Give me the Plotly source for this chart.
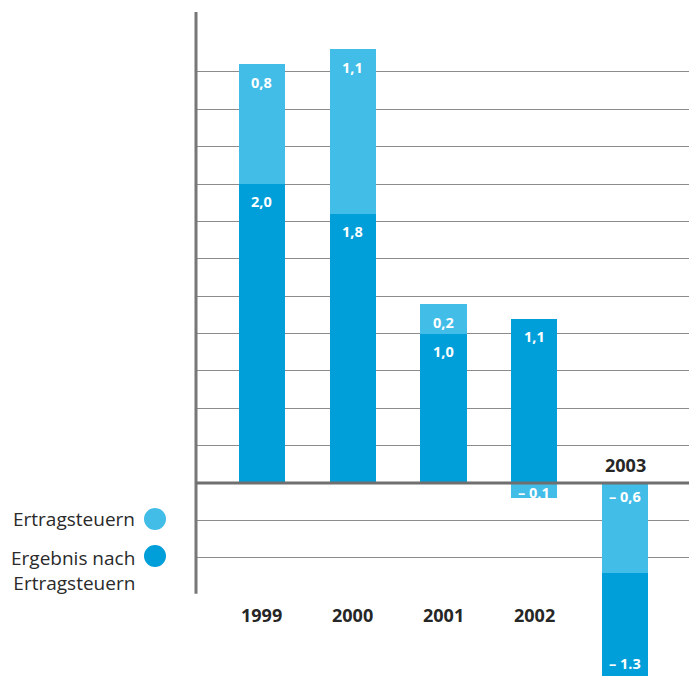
import plotly.graph_objects as go

# Jahre und Werte (Mrd. €)
years = ["1999", "2000", "2001", "2002", "2003"]
ergebnis = [2.0, 1.8, 1.0, 1.1, -1.3]          # Ergebnis nach Ertragsteuern
steuern = [0.8, 1.1, 0.2, -0.1, -0.6]          # Ertragsteuern
ergebnis_labels = ["2,0", "1,8", "1,0", "1,1", "\u2013 1.3"]
steuern_labels = ["0,8", "1,1", "0,2", "\u2013 0,1", "\u2013 0,6"]
grid_levels = [-0.5, -0.25, 0.25, 0.5, 0.75, 1.0, 1.25, 1.5, 1.75, 2.0, 2.25, 2.5, 2.75]

LIGHT = "#41bde8"
DARK = "#009fda"
Y_MIN, Y_MAX = -1.291, 3.231
X_MIN, X_MAX = -0.727, 4.705
BAR_W = 0.507

x = list(range(len(years)))

# bases so that the tax segment always sits on the outer side of the bar
erg_base, st_base = [], []
for e, t in zip(ergebnis, steuern):
    if e >= 0 and t >= 0:
        erg_base.append(0); st_base.append(e)
    elif e < 0 and t < 0:
        erg_base.append(t); st_base.append(0)
    else:
        erg_base.append(0); st_base.append(0)

fig = go.Figure()
fig.add_trace(go.Bar(x=x, y=ergebnis, base=erg_base, width=BAR_W,
                     marker=dict(color=DARK, line=dict(width=0)),
                     name="Ergebnis nach Ertragsteuern", showlegend=False,
                     hoverinfo="skip"))
fig.add_trace(go.Bar(x=x, y=steuern, base=st_base, width=BAR_W,
                     marker=dict(color=LIGHT, line=dict(width=0)),
                     name="Ertragsteuern", showlegend=False,
                     hoverinfo="skip"))

val_font = dict(family="Open Sans", size=14.5, color="white")
ann = []
for i in x:
    # tax segment label
    b, v = st_base[i], steuern[i]
    if v >= 0:
        ann.append(dict(x=i, y=b + v, yshift=-7, yanchor="top", text="<b>%s</b>" % steuern_labels[i]))
    elif abs(v) < 0.2:
        ann.append(dict(x=i, y=b + v / 2, yshift=-2, yanchor="middle", text="<b>%s</b>" % steuern_labels[i]))
    else:
        ann.append(dict(x=i, y=b, yshift=-2, yanchor="top", text="<b>%s</b>" % steuern_labels[i]))
    # result segment label
    b, v = erg_base[i], ergebnis[i]
    if v >= 0:
        ann.append(dict(x=i, y=b + v, yshift=-6, yanchor="top", text="<b>%s</b>" % ergebnis_labels[i]))
    else:
        ann.append(dict(x=i, y=max(b + v, Y_MIN), yshift=1, yanchor="bottom", text="<b>%s</b>" % ergebnis_labels[i]))
for a in ann:
    a.update(xref="x", yref="y", showarrow=False, font=val_font, xanchor="center")

# year labels: below the axis, or above the zero line for negative bars
year_font = dict(family="Open Sans", size=18, color="#262626")
for i in x:
    if ergebnis[i] + steuern[i] >= 0:
        ann.append(dict(x=i, y=-0.88, yanchor="middle", text="<b>%s</b>" % years[i]))
    else:
        ann.append(dict(x=i, y=0, yshift=4, yanchor="bottom", text="<b>%s</b>" % years[i]))
    ann[-1].update(xref="x", yref="y", showarrow=False, font=year_font, xanchor="center")

# legend drawn in the left margin
PLOT_L, PLOT_W = 196, 493
def px(v):
    return (v - PLOT_L) / PLOT_W

leg_font = dict(family="Open Sans", size=19, color="#2a2a2a")
ann.append(dict(x=px(137), y=-0.241, xref="paper", yref="y", xanchor="right", yanchor="middle",
                text="Ertragsteuern", showarrow=False, font=leg_font))
ann.append(dict(x=px(137), y=-0.4, xref="paper", yref="y", xanchor="right", yanchor="top",
                text="Ergebnis nach<br>Ertragsteuern", showarrow=False, font=leg_font,
                align="right"))

shapes = []
R = 11
for cy, col in [(-0.241, LIGHT), (-0.488, DARK)]:
    cpx = 483 - cy * 149.5
    shapes.append(dict(type="circle", xref="paper", yref="paper",
                       x0=px(155 - R), x1=px(155 + R),
                       y0=1 - (cpx + R) / 676, y1=1 - (cpx - R) / 676,
                       fillcolor=col, line=dict(width=0), layer="above"))

# vertical axis line and zero line
shapes.append(dict(type="line", xref="paper", yref="y", x0=0, x1=0, y0=-0.74, y1=3.15,
                   line=dict(color="#777777", width=3), layer="above"))
shapes.append(dict(type="line", xref="paper", yref="y", x0=0, x1=1, y0=0, y1=0,
                   line=dict(color="#6f6f6f", width=3), layer="above"))

fig.update_layout(
    width=689, height=676,
    margin=dict(l=PLOT_L, r=0, t=0, b=0),
    paper_bgcolor="white", plot_bgcolor="white",
    barmode="overlay", bargap=0,
    xaxis=dict(range=[X_MIN, X_MAX], showgrid=False, zeroline=False,
               showticklabels=False, showline=False, fixedrange=True),
    yaxis=dict(range=[Y_MIN, Y_MAX], tickvals=grid_levels, showgrid=True,
               gridcolor="#8c8c8c", gridwidth=1, zeroline=False,
               showticklabels=False, showline=False, fixedrange=True),
    annotations=ann, shapes=shapes,
)

fig.write_html("out.html")
